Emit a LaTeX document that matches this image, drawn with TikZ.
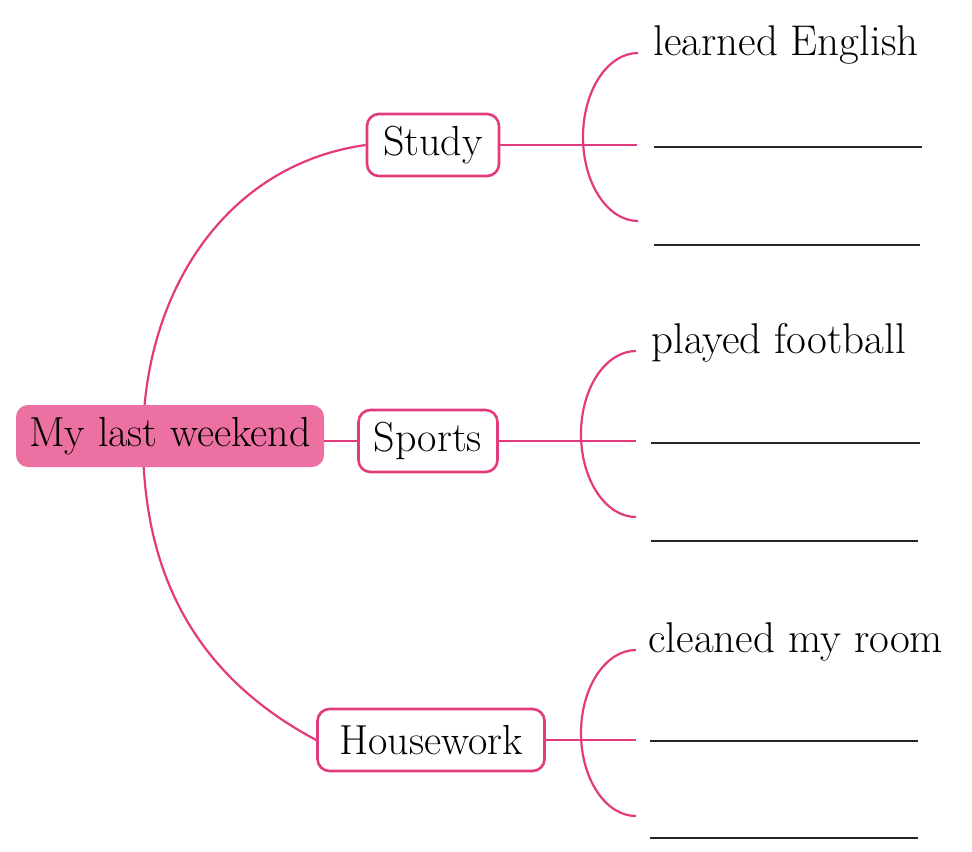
\documentclass[tikz,border=0pt]{standalone}
\usepackage{tikz}
\usetikzlibrary{calc}
\usepackage{xcolor}

\definecolor{mindpink}{RGB}{226,58,124}
\definecolor{mindfill}{RGB}{236,112,162}

\tikzset{
	topicbox/.style={draw=mindpink, line width=1.3pt, fill=white, rounded corners=6pt,
		inner xsep=4pt, minimum height=31pt, font=\fontsize{21}{24}\selectfont},
	centrebox/.style={fill=mindfill, rounded corners=6pt, inner xsep=4pt,
		minimum height=31pt, minimum width=154pt, font=\fontsize{21}{24}\selectfont},
	pinkline/.style={draw=mindpink, line width=1.1pt},
	blankline/.style={draw=black!85, line width=0.7pt},
	answer/.style={anchor=base west, inner sep=0pt, font=\fontsize{21.5}{24}\selectfont}
}

\begin{document}
\begin{tikzpicture}[x=0.5pt, y=0.5pt]
	\useasboundingbox (0,0) rectangle (972,-851);
	% topics
	\node [topicbox, minimum width=66pt] (study) at (433,-145) {Study};
	\node [topicbox, minimum width=69.5pt] (sports) at (428,-441) {Sports};
	\node [topicbox, minimum width=113.5pt] (house) at (431,-740) {Housework};
	% the big arc behind the centre box
	\coordinate (turn) at (143,-440);
	\draw [pinkline] (study.west) to[out=188,in=90] (turn) to[out=-90,in=152] (house.west);
	\node [centrebox] (main) at (170,-436) {My last weekend};
	\draw [pinkline] (main.east |- sports.west) -- (sports.west);

	% Study
	\coordinate (S1) at (638,-53);
	\coordinate (S4) at (637,-145);
	\draw [pinkline] (study.east) -- (S4);
	\draw [pinkline] (S1) arc [start angle=90, end angle=270, x radius=27.5pt, y radius=42pt];
	\node [answer] (learn) at (653,-55) {learned English};
	\draw [blankline] (654,-147) -- (922,-147);
	\draw [blankline] (654,-245) -- (920,-245);

	% Sports
	\coordinate (P1) at (636,-351);
	\coordinate (P4) at (636,-441);
	\draw [pinkline] (sports.east) -- (P4);
	\draw [pinkline] (P1) arc [start angle=90, end angle=270, x radius=27.5pt, y radius=41.5pt];
	\node [answer] (play) at (651,-353) {played football};
	\draw [blankline] (651,-443) -- (920,-443);
	\draw [blankline] (651,-541) -- (918,-541);

	% Housework
	\coordinate (H1) at (636,-650);
	\coordinate (H4) at (636,-740);
	\draw [pinkline] (house.east) -- (H4);
	\draw [pinkline] (H1) arc [start angle=90, end angle=270, x radius=27.5pt, y radius=41.5pt];
	\node [answer] (clean) at (648,-652) {cleaned my room};
	\draw [blankline] (650,-741) -- (918,-741);
	\draw [blankline] (650,-838) -- (918,-838);
\end{tikzpicture}
\end{document}
